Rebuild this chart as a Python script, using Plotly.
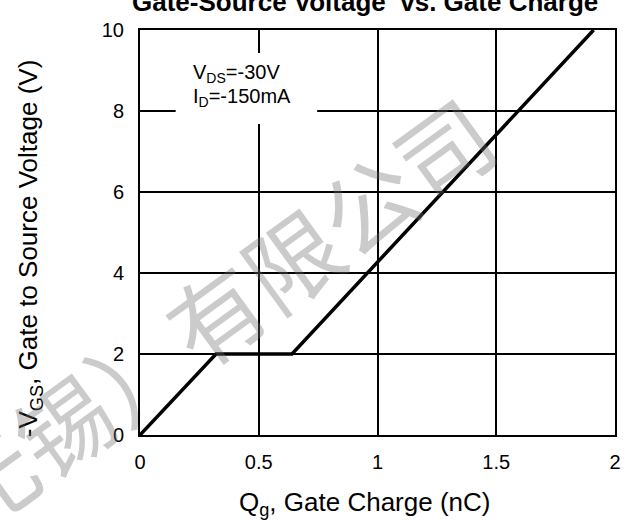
import plotly.graph_objects as go

# Data
qg = [0, 0.32, 0.64, 1.91]          # Gate charge (nC)
vgs = [0, 2, 2, 10]                  # -VGS (V)
x_ticks = [0, 0.5, 1, 1.5, 2]
x_tick_text = ["0", "0.5", "1", "1.5", "2"]
y_ticks = [0, 2, 4, 6, 8, 10]
y_tick_text = ["0", "2", "4", "6", "8", "10"]

W, H = 633, 522
L, R, T, B = 140, 13, 30, 87
pw, ph = W - L - R, H - T - B


def px(x):
    return (x - L) / pw


def py(y):
    return (H - B - y) / ph


FONT = "Liberation Sans, Arial, sans-serif"

fig = go.Figure()
fig.add_trace(go.Scatter(x=qg, y=vgs, mode="lines",
                         line=dict(color="black", width=3.5),
                         showlegend=False, hoverinfo="skip"))

axis_common = dict(showgrid=True, gridcolor="black", gridwidth=2,
                   showline=True, linecolor="black", linewidth=2, mirror=True,
                   zeroline=False, ticks="outside",
                   tickcolor="rgba(0,0,0,0)",
                   tickfont=dict(family=FONT, size=20, color="black"))

fig.update_layout(
    width=W, height=H,
    margin=dict(l=L, r=R, t=T, b=B),
    paper_bgcolor="white", plot_bgcolor="white",
    xaxis=dict(range=[0, 2], tickvals=x_ticks, ticktext=x_tick_text, ticklen=8, **axis_common),
    yaxis=dict(range=[0, 10], tickvals=y_ticks, ticktext=y_tick_text, ticklen=10, **axis_common),
    font=dict(family=FONT, color="black"),
)

# white box behind condition text
fig.add_shape(type="rect", xref="x", yref="y", x0=0.15, x1=0.746, y0=7.68, y1=9.43,
              fillcolor="white", line=dict(width=0), layer="above")

fig.add_annotation(xref="paper", yref="paper", x=px(192), y=py(74), xanchor="left",
                   yanchor="middle", showarrow=False,
                   text="V<sub>DS</sub>=-30V", font=dict(family=FONT, size=20, color="black"))
fig.add_annotation(xref="paper", yref="paper", x=px(192), y=py(98), xanchor="left",
                   yanchor="middle", showarrow=False,
                   text="I<sub>D</sub>=-150mA", font=dict(family=FONT, size=20, color="black"))

# Title
fig.add_annotation(xref="paper", yref="paper", x=px(367), y=py(2), xanchor="center",
                   yanchor="middle", showarrow=False,
                   text="<b>Gate-Source Voltage  vs. Gate Charge</b>",
                   font=dict(family=FONT, size=26, color="black"))
# X title
fig.add_annotation(xref="paper", yref="paper", x=px(367), y=py(504), xanchor="center",
                   yanchor="middle", showarrow=False,
                   text="Q<sub>g</sub>, Gate Charge (nC)",
                   font=dict(family=FONT, size=26, color="black"))
# Y title
fig.add_annotation(xref="paper", yref="paper", x=px(28), y=py(249), xanchor="center",
                   yanchor="middle", showarrow=False, textangle=-90,
                   text="-V<sub>GS</sub>, Gate to Source Voltage (V)",
                   font=dict(family=FONT, size=26, color="black"))

# Watermark
fig.add_annotation(xref="paper", yref="paper", x=px(215), y=py(312), xanchor="center",
                   yanchor="middle", showarrow=False, textangle=-36,
                   text="无锡）有限公司",
                   font=dict(family="Noto Sans CJK SC", size=94, color="rgba(110,110,110,0.36)"))

fig.write_html("out.html")
